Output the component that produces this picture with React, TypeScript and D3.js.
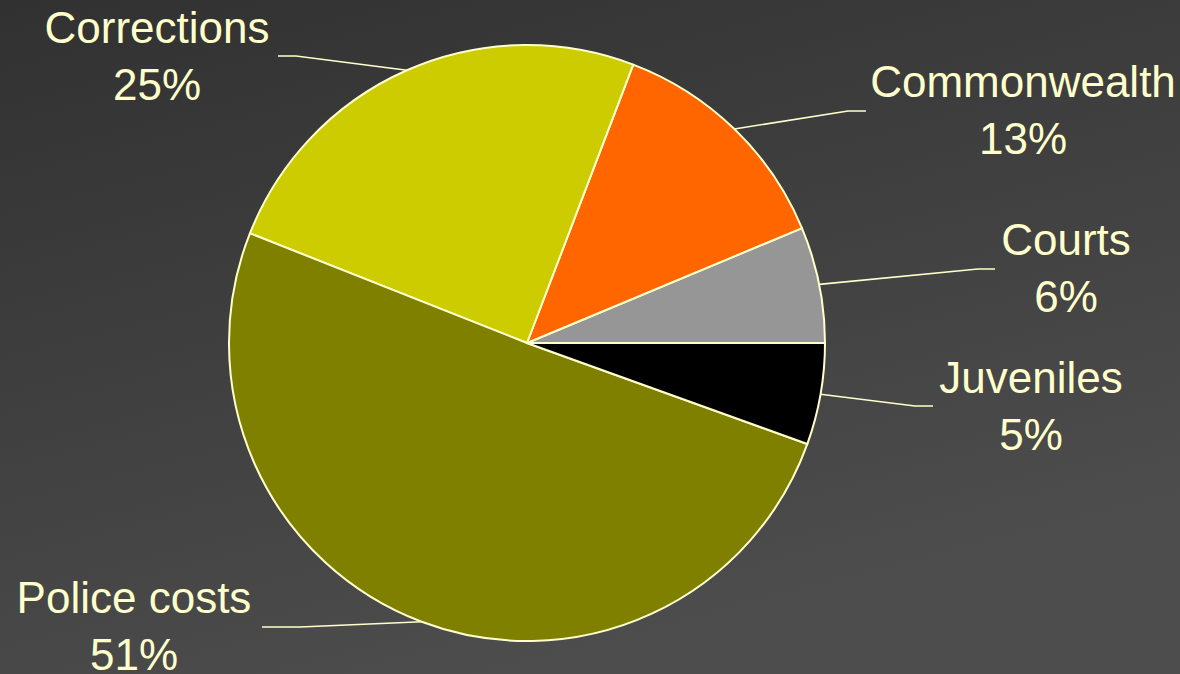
import React from "react";
import * as d3 from "d3";

// Data (counter-clockwise from 3 o'clock)
const categories = ["Courts", "Commonwealth", "Corrections", "Police costs", "Juveniles"];
const values = [6.3, 12.9, 24.8, 50.5, 5.5];
const percentLabels = ["6%", "13%", "25%", "51%", "5%"];
const colors = ["#969696", "#FF6600", "#CCCC00", "#808000", "#000000"];

// Label layout: text centre x, first baseline y, and leader elbow
const labelLayout = [
  { x: 1066, y: 255, elbowX: 978, elbowY: 269, endX: 995 },
  { x: 1023, y: 97, elbowX: 848, elbowY: 111, endX: 866 },
  { x: 157, y: 43, elbowX: 296, elbowY: 56, endX: 278 },
  { x: 134, y: 613, elbowX: 300, elbowY: 627, endX: 262 },
  { x: 1031, y: 393, elbowX: 915, elbowY: 406, endX: 933 },
];

const W = 1180;
const H = 674;
const CX = 527;
const CY = 343;
const R = 298;
const TEXT = "#FFFFCC";

export default function App() {
  const pie = d3
    .pie<number>()
    .sort(null)
    .startAngle(Math.PI / 2)
    .endAngle(Math.PI / 2 - 2 * Math.PI)
    .value((d) => d);
  const arcs = pie(values);
  const arc = d3.arc<d3.PieArcDatum<number>>().innerRadius(0).outerRadius(R);

  return (
    <div style={{ position: "absolute", left: 0, top: 0 }}>
      <svg width={W} height={H} style={{ display: "block" }}>
        <defs>
          <linearGradient id="bg" x1="0" y1="0" x2="0.45" y2="1">
            <stop offset="0" stopColor="#313131" />
            <stop offset="1" stopColor="#4d4d4d" />
          </linearGradient>
        </defs>
        <rect x={0} y={0} width={W} height={H} fill="url(#bg)" />
        <g transform={`translate(${CX},${CY})`}>
          {arcs.map((a, i) => (
            <path key={categories[i]} d={arc(a) || ""} fill={colors[i]} stroke={TEXT} strokeWidth={2} strokeLinejoin="round" />
          ))}
        </g>
        {arcs.map((a, i) => {
          const mid = (a.startAngle + a.endAngle) / 2;
          const px = CX + Math.sin(mid) * R;
          const py = CY - Math.cos(mid) * R;
          const L = labelLayout[i];
          return (
            <polyline
              key={"l" + i}
              points={`${px},${py} ${L.elbowX},${L.elbowY} ${L.endX},${L.elbowY}`}
              fill="none"
              stroke={TEXT}
              strokeWidth={1.6}
            />
          );
        })}
        {categories.map((c, i) => {
          const L = labelLayout[i];
          return (
            <text
              key={"t" + i}
              x={L.x}
              y={L.y}
              textAnchor="middle"
              fill={TEXT}
              fontFamily="'Liberation Sans', Arial, sans-serif"
              fontSize={44}
            >
              <tspan x={L.x} y={L.y}>{c}</tspan>
              <tspan x={L.x} y={L.y + 57}>{percentLabels[i]}</tspan>
            </text>
          );
        })}
      </svg>
    </div>
  );
}
